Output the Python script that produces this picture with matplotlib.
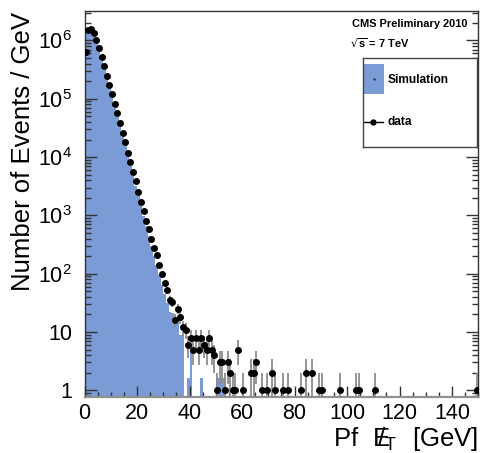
import numpy as np
import matplotlib.pyplot as plt
from matplotlib.ticker import FixedLocator, MultipleLocator, FuncFormatter, NullFormatter
from matplotlib.patches import Rectangle

plt.rcParams['font.family'] = ['Liberation Sans', 'DejaVu Sans']
plt.rcParams['mathtext.default'] = 'regular'

# 1 GeV bins, 0..150
edges = np.arange(0, 151, 1)

# data counts per bin (bin lower edge -> count)
data_bins = [0, 1, 2, 3, 4, 5, 6, 7, 8, 9,
             10, 11, 12, 13, 14, 15, 16, 17, 18, 19,
             20, 21, 22, 23, 24, 25, 26, 27, 28, 29,
             30, 31, 32, 33, 34, 35, 36, 37, 38, 39,
             40, 41, 42, 43, 44, 45, 46, 47, 48, 49,
             50, 51, 52, 53, 54, 55, 56, 57, 58, 60,
             63, 64, 65, 67, 69, 71, 72, 75, 77, 82,
             84, 86, 89, 90, 97, 103, 104, 110, 149]
data_counts = [6.3e5, 1.49e6, 1.6e6, 1.37e6, 1.04e6, 7.4e5, 5.2e5, 3.65e5, 2.5e5, 1.74e5,
               1.2e5, 8.2e4, 5.6e4, 3.85e4, 2.63e4, 1.79e4, 1.19e4, 8100, 5500, 3900,
               2500, 1700, 1180, 800, 585, 400, 275, 212, 143, 100,
               69, 53, 35, 33, 16, 25, 18, 12, 11, 6,
               8, 5, 8, 5, 8, 6, 5, 8, 5, 4,
               1, 3, 3, 1, 3, 2, 1, 1, 5, 1,
               2, 2, 3, 1, 1, 2, 1, 1, 1, 1,
               2, 2, 1, 1, 1, 1, 1, 1, 1]

# simulation per bin, bins 0..53 (rest empty)
sim_values = [1.5e6, 1.45e6, 1.35e6, 1.15e6, 8.8e5, 6.4e5, 4.5e5, 3.1e5, 2.15e5, 1.5e5,
              1.02e5, 7.0e4, 4.8e4, 3.3e4, 2.25e4, 1.52e4, 1.03e4, 7000, 4700, 3200,
              2150, 1450, 980, 660, 450, 300, 205, 140, 95, 65,
              45, 31, 22, 21, 14, 14, 9, 9, 0, 1.6,
              4.5, 0, 0, 0, 1.6, 0, 0, 0, 0, 0,
              1.6, 1.6, 1.6, 1.6]

sim = np.zeros(150)
sim[:len(sim_values)] = sim_values
x_data = np.array(data_bins) + 0.5
y_data = np.array(data_counts)
err = np.sqrt(np.round(y_data))

blue = '#7a9bd6'

fig = plt.figure(figsize=(4.81, 4.53), dpi=100)
ax = fig.add_axes([84.5/481, 1-397.3/453, (478.3-84.5)/481, (397.3-10.5)/453])

base = 1e-2
ax.stairs(np.maximum(sim, base), edges, fill=True, baseline=base, color=blue, lw=0)

ax.errorbar(x_data, y_data, yerr=err, fmt='o', color='black', ms=4,
            ecolor='#8c8c8c', elinewidth=1.3, capsize=0, zorder=3)

ax.set_yscale('log')
ax.set_xlim(0, 150)
ax.set_ylim(0.758, 3.27e6)

ax.xaxis.set_major_locator(MultipleLocator(20))
ax.xaxis.set_minor_locator(MultipleLocator(5))
majors = [10.0 ** k for k in range(7)]
minors = [m * 10.0 ** k for k in range(-1, 7) for m in range(2, 10)]
minors = [v for v in minors if 0.758 < v < 3.27e6]
ax.yaxis.set_major_locator(FixedLocator(majors))
ax.yaxis.set_minor_locator(FixedLocator(minors))
ax.yaxis.set_minor_formatter(NullFormatter())


def ylab(v, pos):
    n = int(round(np.log10(v)))
    if n == 0:
        return '1'
    if n == 1:
        return '10'
    return r'$10^{%d}$' % n


ax.yaxis.set_major_formatter(FuncFormatter(ylab))

ax.tick_params(axis='both', which='both', direction='in', color='#333333', labelsize=15.5)
ax.tick_params(axis='x', which='major', length=7.7, width=1, pad=4)
ax.tick_params(axis='x', which='minor', length=3.6, width=1)
ax.tick_params(axis='y', which='major', length=8.6, width=1, pad=9, right=True)
ax.tick_params(axis='y', which='minor', length=4.3, width=1, right=True)

for s in ax.spines.values():
    s.set_color('#333333')
    s.set_linewidth(1)
ax.spines['bottom'].set_color('#909090')
ax.spines['bottom'].set_linewidth(1.6)

fig.text(23/481, 1-12/453, 'Number of Events / GeV', rotation=90, ha='center', va='top', fontsize=18.5)
fig.text(478/481, 1-446/453, r'Pf $\ E\!\!\!/_{T}\ $ [GeV]', ha='right', va='baseline', fontsize=18.5)

fig.text(352/481, 1-24/453, 'CMS Preliminary 2010', ha='left', va='center', fontsize=7.9, fontweight='bold')
fig.text(350/481, 1-43/453, r'$\sqrt{s}$ = 7 TeV', ha='left', va='center', fontsize=7.9, fontweight='bold')

# legend box
lax = fig.add_axes([363/481, 1-147/453, (477-363)/481, (147-58)/453])
lax.set_xlim(0, 114)
lax.set_ylim(89, 0)
lax.set_xticks([])
lax.set_yticks([])
for s in lax.spines.values():
    s.set_color('#444444')
    s.set_linewidth(1)
lax.add_patch(Rectangle((1, 6), 20, 30, color=blue, lw=0))
lax.plot([11], [21], marker='.', ms=1.5, color='#333333')
lax.text(25, 22, 'Simulation', ha='left', va='center', fontsize=8.6, fontweight='bold')
lax.plot([1, 20], [64, 64], color='black', lw=1)
lax.plot([10.5], [64], marker='o', ms=3.5, color='black')
lax.text(25, 64, 'data', ha='left', va='center', fontsize=8.6, fontweight='bold')

fig.savefig('out.png', dpi=100)
